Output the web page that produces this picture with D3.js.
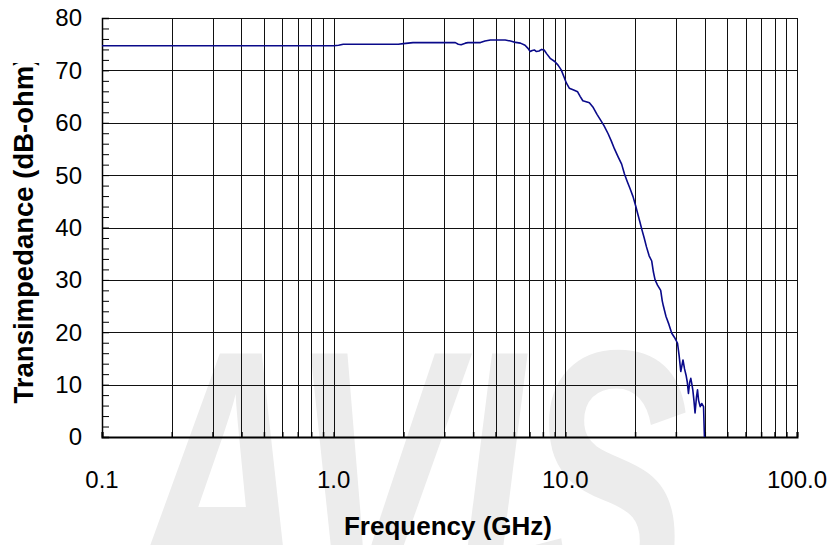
<!DOCTYPE html>
<html>
<head>
<meta charset="utf-8">
<script src="https://cdn.jsdelivr.net/npm/d3@7"></script>
<style>
  body { margin: 0; background: #fff; }
  svg { display: block; font-family: "Liberation Sans", Arial, sans-serif; }
</style>
</head>
<body>
<div id="chart"></div>
<script>
/* CONSTANTS AND GLOBALS */
const width = 833,
  height = 545,
  margin = { top: 18, bottom: 108, left: 102, right: 36 };

// frequency (GHz) and transimpedance (dB-ohm)
const freqGHz = [0.1, 0.15, 0.3, 0.6, 1.0, 1.05, 1.1, 1.5, 1.9, 2.0, 2.2, 2.5, 3.0, 3.35, 3.45, 3.55, 3.7, 3.8,
  4.3, 4.5, 4.75, 5.0, 5.5, 5.8, 6.0, 6.4, 6.7, 6.9, 7.05, 7.2, 7.35, 7.5, 7.7, 7.9, 8.1, 8.3, 8.6, 9.0,
  9.3, 9.6, 9.9, 10.1, 10.4, 10.8, 11.3, 11.6, 11.9, 12.3, 12.7, 13.2, 13.7, 14.2, 14.7, 15.3, 15.8, 16.3,
  16.9, 17.5, 18.0, 18.5, 19.0, 19.6, 20.1, 20.6, 21.0, 21.4, 21.9, 22.4, 23.0, 23.6, 24.0, 24.4, 25.0,
  25.8, 26.2, 26.5, 27.2, 28.0, 28.8, 29.6, 30.5, 31.0, 31.5, 32.2, 32.7, 33.2, 33.6, 34.0, 34.4, 34.8,
  35.2, 35.5, 35.9, 36.3, 36.8, 37.2, 37.6, 38.2, 38.8, 39.5, 39.85];
const transimpedance = [74.7, 74.7, 74.7, 74.7, 74.7, 74.8, 75.0, 75.0, 75.0, 75.1, 75.3, 75.3, 75.3, 75.3, 75.0,
  74.9, 75.2, 75.3, 75.3, 75.6, 75.8, 75.8, 75.8, 75.6, 75.4, 75.2, 74.8, 74.2, 73.6, 73.8, 73.9, 73.6,
  73.7, 74.0, 73.9, 73.2, 72.3, 71.7, 71.0, 70.1, 68.6, 67.6, 66.6, 66.3, 65.9, 65.0, 64.2, 64.0, 63.8,
  62.9, 61.6, 60.5, 59.4, 57.9, 56.5, 55.0, 53.5, 52.1, 50.2, 48.8, 47.5, 45.9, 44.2, 42.4, 41.0, 39.6,
  38.0, 36.3, 34.6, 33.6, 31.5, 30.0, 29.0, 28.0, 26.0, 25.0, 23.0, 21.5, 19.8, 19.0, 17.9, 15.5, 12.5,
  14.7, 13.0, 11.8, 10.5, 8.3, 10.4, 11.2, 10.0, 9.0, 7.0, 4.6, 7.5, 9.0, 7.0, 5.8, 6.4, 5.8, 0];

const xTicks = [0.1, 1, 10, 100];
const xTickLabels = ["0.1", "1.0", "10.0", "100.0"];
const yTicks = [0, 10, 20, 30, 40, 50, 60, 70, 80];

const data = freqGHz.map((f, i) => ({ f: f, v: transimpedance[i] }));

/* SVG */
const svg = d3.select("#chart")
  .append("svg")
  .attr("width", width)
  .attr("height", height);

/* SCALES */
const xScale = d3.scaleLog()
  .domain([0.1, 100])
  .range([margin.left, width - margin.right]);

const yScale = d3.scaleLinear()
  .domain([0, 80])
  .range([height - margin.bottom, margin.top]);

// faint watermark behind everything
svg.append("text")
  .attr("x", 200)
  .attr("y", 615)
  .attr("font-size", 380)
  .attr("font-weight", "bold")
  .attr("font-style", "italic")
  .attr("fill", "#ececec")
  .attr("transform", "scale(0.65,1)")
  .text("AVIS");

/* GRID */
// vertical lines at every log minor step
const minorX = [];
[0.1, 1, 10].forEach(dec => {
  for (let k = 1; k <= 9; k++) minorX.push(dec * k);
});
minorX.push(100);

svg.append("g")
  .selectAll("line")
  .data(minorX)
  .join("line")
  .attr("x1", d => Math.round(xScale(d)) + 0.5)
  .attr("x2", d => Math.round(xScale(d)) + 0.5)
  .attr("y1", yScale(80))
  .attr("y2", yScale(0))
  .attr("stroke", "#111")
  .attr("stroke-width", 1);

svg.append("g")
  .selectAll("line")
  .data(yTicks)
  .join("line")
  .attr("x1", xScale(0.1))
  .attr("x2", xScale(100))
  .attr("y1", d => Math.round(yScale(d)) + 0.5)
  .attr("y2", d => Math.round(yScale(d)) + 0.5)
  .attr("stroke", "#111")
  .attr("stroke-width", 1);

/* AXES */
const yAxis = d3.axisRight(yScale)
  .tickValues(d3.range(0, 81, 2))
  .tickSize(7)
  .tickFormat("");

svg.append("g")
  .attr("transform", `translate(${margin.left}, 0)`)
  .call(yAxis)
  .call(g => g.select(".domain").attr("stroke", "#000").attr("stroke-width", 1.5))
  .call(g => g.selectAll("line").attr("stroke", "#000"));

const xAxis = d3.axisBottom(xScale)
  .tickValues(minorX)
  .tickSize(-5)
  .tickFormat("");

svg.append("g")
  .attr("transform", `translate(0, ${height - margin.bottom})`)
  .call(xAxis)
  .call(g => g.select(".domain").attr("stroke", "#000").attr("stroke-width", 2))
  .call(g => g.selectAll("line").attr("stroke", "#000").attr("stroke-width", 1.5));

// tick labels
svg.append("g")
  .selectAll("text")
  .data(yTicks)
  .join("text")
  .attr("x", margin.left - 20)
  .attr("y", d => yScale(d))
  .attr("dy", "0.35em")
  .attr("text-anchor", "end")
  .attr("font-size", 24)
  .attr("fill", "#000")
  .text(d => d);

svg.append("g")
  .selectAll("text")
  .data(xTicks)
  .join("text")
  .attr("x", d => xScale(d))
  .attr("y", 488)
  .attr("text-anchor", "middle")
  .attr("font-size", 24)
  .attr("fill", "#000")
  .text((d, i) => xTickLabels[i]);

/* LINE */
const lineGen = d3.line()
  .x(d => xScale(d.f))
  .y(d => yScale(d.v));

svg.append("path")
  .datum(data)
  .attr("d", lineGen)
  .attr("fill", "none")
  .attr("stroke", "#0a0a8a")
  .attr("stroke-width", 1.6)
  .attr("stroke-linejoin", "round");

/* AXIS TITLES */
svg.append("text")
  .attr("x", 448)
  .attr("y", 535)
  .attr("text-anchor", "middle")
  .attr("font-size", 26)
  .attr("font-weight", "bold")
  .attr("fill", "#000")
  .text("Frequency (GHz)");

// the original title box cuts off the closing bracket
svg.append("clipPath")
  .attr("id", "ylabel-clip")
  .append("rect")
  .attr("x", 0)
  .attr("y", 63)
  .attr("width", 60)
  .attr("height", 400);

svg.append("g")
  .attr("clip-path", "url(#ylabel-clip)")
  .append("text")
  .attr("transform", "translate(33, 230) rotate(-90)")
  .attr("text-anchor", "middle")
  .attr("font-size", 27.5)
  .attr("font-weight", "bold")
  .attr("fill", "#000")
  .text("Transimpedance (dB-ohm)");
</script>
</body>
</html>
